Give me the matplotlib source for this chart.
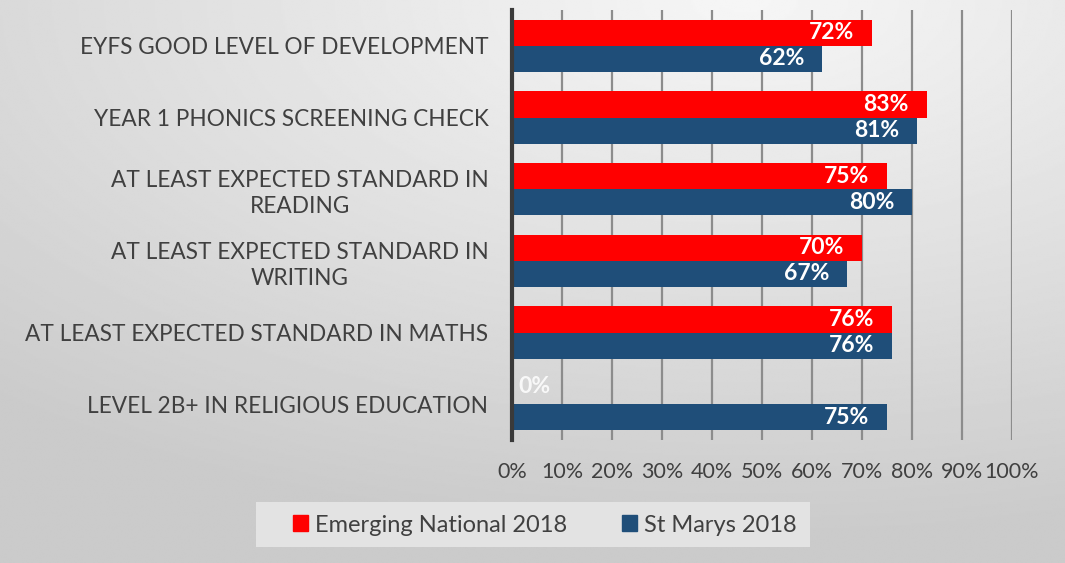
import numpy as np
import matplotlib.pyplot as plt
from matplotlib.patches import Patch, Rectangle

# data
categories = [
    "EYFS GOOD LEVEL OF DEVELOPMENT",
    "YEAR 1 PHONICS SCREENING CHECK",
    "AT LEAST EXPECTED STANDARD IN\nREADING",
    "AT LEAST EXPECTED STANDARD IN\nWRITING",
    "AT LEAST EXPECTED STANDARD IN MATHS",
    "LEVEL 2B+ IN RELIGIOUS EDUCATION",
]
national = [72, 83, 75, 70, 76, 0]
st_marys = [62, 81, 80, 67, 76, 75]
series_names = ["Emerging National 2018", "St Marys 2018"]
ticks = list(range(0, 101, 10))

RED = "#FF0000"
BLUE = "#1F4E79"
TXT = "#404040"

plt.rcParams["font.family"] = ["Lato", "DejaVu Sans"]

fig = plt.figure(figsize=(10.65, 5.63), dpi=100)

# radial gradient background, bright near the top centre
bg = fig.add_axes([0, 0, 1, 1], zorder=-10)
yy, xx = np.mgrid[0:1:300j, 0:1:600j]
d = np.sqrt(((xx - 0.7) * 1.0) ** 2 + (yy * 1.1) ** 2)
shade = 0.965 - 0.17 * np.clip(d / 1.05, 0, 1)
bg.imshow(shade, cmap="gray", vmin=0, vmax=1, aspect="auto",
          extent=[0, 1, 0, 1], origin="upper", interpolation="bilinear")
bg.set_xlim(0, 1)
bg.set_ylim(0, 1)
bg.axis("off")

ax = fig.add_axes([512 / 1065, 1 - 440 / 563, 500 / 1065, 430 / 563])
ax.patch.set_alpha(0)

y = np.arange(len(categories))
h = 0.365
ax.barh(y - h / 2, national, height=h, color=RED, zorder=3)
ax.barh(y + h / 2, st_marys, height=h, color=BLUE, zorder=3)

for i, v in enumerate(national):
    if v > 0:
        ax.text(v - 3.6, i - h / 2, f"{v}%", color="white", fontweight="bold",
                fontsize=16.5, ha="right", va="center", zorder=4)
    else:
        ax.text(v + 1.2, i - h / 2 - 0.06, f"{v}%", color="white", fontweight="bold",
                fontsize=16.5, ha="left", va="center", zorder=4, alpha=0.85)
for i, v in enumerate(st_marys):
    ax.text(v - 3.6, i + h / 2, f"{v}%", color="white", fontweight="bold",
            fontsize=16.5, ha="right", va="center", zorder=4)

ax.set_xlim(0, 100)
ax.set_ylim(len(categories) - 0.5, -0.5)
ax.set_xticks(ticks)
ax.set_xticklabels([f"{t}%" for t in ticks], fontsize=15.5, color=TXT)
ax.set_yticks(y)
ax.set_yticklabels(categories, fontsize=16.3, color=TXT, ha="right")
ax.tick_params(axis="y", length=0, pad=17)
ax.tick_params(axis="x", length=0, pad=16)
for lbl in ax.get_yticklabels():
    lbl.set_multialignment("center")
    lbl.set_linespacing(1.3)

ax.grid(axis="x", color="#8c8c8c", linewidth=1.6, zorder=0)
for s in ["top", "right", "bottom"]:
    ax.spines[s].set_visible(False)
ax.spines["left"].set_color("#3a3a3a")
ax.spines["left"].set_linewidth(3)
ax.spines["left"].set_zorder(5)

# legend box
fig.patches.append(Rectangle((256 / 1065, 1 - 547 / 563), 554 / 1065, 45 / 563,
                             transform=fig.transFigure, facecolor="#e6e6e6",
                             edgecolor="none", alpha=0.9, zorder=1))
handles = [Patch(color=RED), Patch(color=BLUE)]
leg = fig.legend(handles, series_names, loc="center", bbox_to_anchor=(545 / 1065, 1 - 525 / 563),
                 ncol=2, frameon=False, fontsize=17, handlelength=0.65, handleheight=0.65,
                 handletextpad=0.3, columnspacing=2.3)
for t in leg.get_texts():
    t.set_color(TXT)

fig.savefig("out.png", dpi=100)
